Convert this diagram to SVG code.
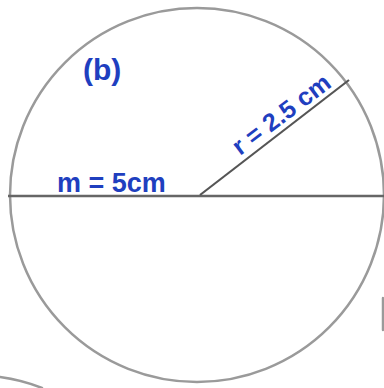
<svg xmlns="http://www.w3.org/2000/svg" width="384" height="388" viewBox="0 0 384 388">
<style>
.pencil{fill:none;stroke:#9a9a9a;stroke-width:2.5;stroke-linecap:round}
.ink{fill:#1f3fbf;font-family:"Liberation Sans",Arial,sans-serif;font-weight:bold}
</style>
<rect width="384" height="388" fill="#fff"/>
<g id="circle">
<circle class="pencil" cx="197" cy="195" r="187"/>
</g>
<g id="connectors">
<line id="diameter" x1="8" y1="196" x2="384" y2="196" stroke="#666" stroke-width="2.5"/>
<line id="radius" x1="200" y1="195" x2="349" y2="80" stroke="#555" stroke-width="2.2"/>
<path class="pencil" d="M0,377 Q22,380 42,388"/>
<line class="pencil" x1="383" y1="298" x2="383" y2="330"/>
</g>
<g id="labels">
<text class="ink" x="83" y="80" font-size="30">(b)</text>
<text class="ink" x="57" y="192" font-size="27">m = 5cm</text>
<text class="ink" font-size="25" transform="translate(240,156) rotate(-37)">r = 2.5 cm</text>
</g>
</svg>
